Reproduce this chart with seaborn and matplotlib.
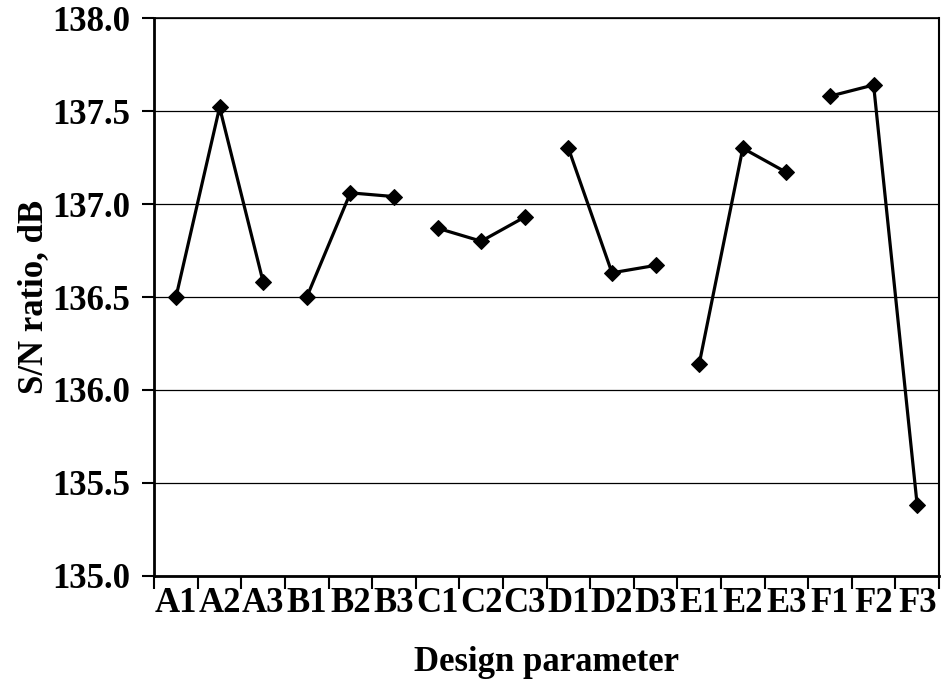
import matplotlib
matplotlib.use("Agg")
import matplotlib.pyplot as plt
import seaborn as sns
import pandas as pd
import numpy as np

# Taguchi main-effect S/N ratios by factor level
levels = ["A1", "A2", "A3", "B1", "B2", "B3", "C1", "C2", "C3",
          "D1", "D2", "D3", "E1", "E2", "E3", "F1", "F2", "F3"]
factors = ["A", "A", "A", "B", "B", "B", "C", "C", "C",
           "D", "D", "D", "E", "E", "E", "F", "F", "F"]
sn_ratio = [136.50, 137.52, 136.58, 136.50, 137.06, 137.04,
            136.87, 136.80, 136.93, 137.30, 136.63, 136.67,
            136.14, 137.30, 137.17, 137.58, 137.64, 135.38]
y_ticks = [135.0, 135.5, 136.0, 136.5, 137.0, 137.5, 138.0]

df = pd.DataFrame({"pos": np.arange(len(levels)), "level": levels,
                   "factor": factors, "sn": sn_ratio})

sns.set_style("white")
plt.rcParams["font.family"] = ["Liberation Serif", "DejaVu Serif"]
plt.rcParams["font.weight"] = "bold"
plt.rcParams["text.color"] = "black"
plt.rcParams["axes.labelcolor"] = "black"
plt.rcParams["xtick.color"] = "black"
plt.rcParams["ytick.color"] = "black"

fig = plt.figure(figsize=(9.46, 6.83), dpi=100)
ax = fig.add_axes([0.163, 0.1567, 0.8296, 0.8169])

sns.lineplot(data=df, x="pos", y="sn", units="factor", estimator=None,
             color="black", lw=2.3, marker="D", markersize=8.5,
             markeredgecolor="black", ax=ax, legend=False, zorder=3)

ax.set_ylim(135.0, 138.0)
ax.set_xlim(-0.5, len(levels) - 0.5)
ax.set_yticks(y_ticks)
ax.set_yticklabels([f"{v:.1f}" for v in y_ticks], fontsize=25, fontweight="bold")
ax.yaxis.grid(True, color="black", lw=0.9)
ax.set_axisbelow(True)

# boundary tick marks between levels, labels centred on each level
ax.set_xticks(np.arange(-0.5, len(levels), 1.0))
ax.set_xticklabels([])
ax.set_xticks(np.arange(len(levels)), minor=True)
ax.set_xticklabels(levels, minor=True, fontsize=25, fontweight="bold")
ax.tick_params(axis="x", which="major", direction="out", length=9, width=1.5,
               color="black", bottom=True)
ax.tick_params(axis="x", which="minor", length=0, pad=8)
ax.tick_params(axis="y", direction="out", length=9, width=1.5, color="black",
               left=True, pad=8)

for side in ["left", "bottom", "right", "top"]:
    ax.spines[side].set_visible(True)
    ax.spines[side].set_color("black")
ax.spines["left"].set_linewidth(2.0)
ax.spines["bottom"].set_linewidth(2.0)
ax.spines["right"].set_linewidth(1.5)
ax.spines["top"].set_linewidth(1.2)

ax.set_xlabel("Design parameter", fontsize=25, fontweight="bold", labelpad=19)
ax.set_ylabel("S/N ratio, dB", fontsize=25, fontweight="bold", labelpad=2)

fig.savefig("out.png", dpi=100, facecolor="white")
